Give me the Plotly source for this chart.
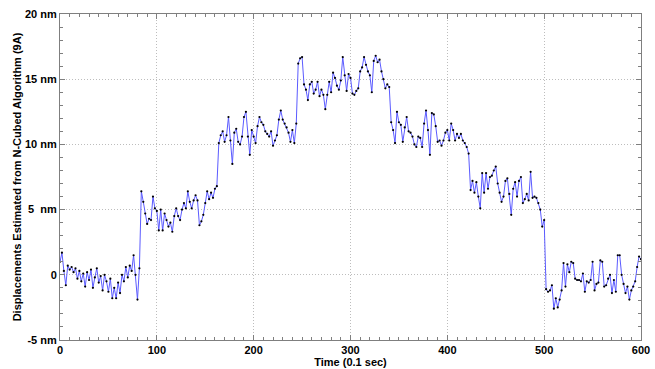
import numpy as np
import plotly.graph_objects as go

# Displacement trace (nm), sampled every 2 time units (0.1 sec), by segment
seg_starts = [0, 86, 164, 246, 342, 424, 502]
seg1 = [1.0, 1.7, 0.3, -0.8, 0.7, 0.4, 0.6, 0.2, 0.5, -0.3,
        0.3, -0.5, 0.1, -0.9, 0.2, -0.4, 0.4, -1.0, -0.2, 0.5,
        -0.6, -0.1, -1.2, 0.0, -0.5, -1.3, -0.3, -1.8, -1.0, -1.8,
        -0.6, -1.4, 0.0, -0.5, 0.6, -0.2, 0.7, 0.3, 1.5, 0.0,
        -1.9, 0.5, 6.4]
seg2 = [5.6, 4.7, 3.9, 4.3, 4.2, 6.0, 5.1, 4.9, 3.4, 5.0,
        3.4, 4.7, 4.2, 3.7, 4.0, 3.3, 4.5, 5.1, 4.5, 4.2,
        5.0, 5.5, 5.1, 6.4, 5.6, 5.1, 5.7, 6.1, 5.7, 3.8,
        4.1, 4.6, 5.5, 6.4, 5.8, 6.3, 5.9, 6.6, 6.8]
seg3 = [10.1, 10.7, 11.0, 10.2, 10.7, 12.1, 10.3, 8.5, 10.9, 11.2,
        10.2, 10.0, 10.6, 12.1, 12.5, 10.6, 9.2, 11.1, 10.6, 10.1,
        11.4, 12.1, 11.7, 11.5, 11.0, 10.8, 10.6, 11.0, 9.9, 10.3,
        10.7, 11.9, 12.6, 11.9, 11.6, 11.3, 10.9, 10.2, 11.1, 10.1,
        11.6]
seg4 = [16.2, 16.6, 16.7, 14.6, 14.2, 13.4, 14.6, 14.8, 13.9, 14.2,
        14.8, 13.7, 14.2, 13.8, 12.7, 13.8, 14.8, 14.0, 15.5, 15.1,
        14.5, 14.2, 14.9, 16.7, 15.3, 14.1, 15.4, 15.1, 13.9, 13.8,
        14.1, 14.3, 15.6, 15.9, 16.7, 16.1, 15.6, 15.3, 14.0, 16.4,
        16.8, 16.3, 16.5, 15.6, 15.0, 14.3, 14.6, 14.4]
seg5 = [11.7, 11.1, 10.1, 12.5, 11.7, 11.5, 10.2, 11.3, 12.1, 11.0,
        10.9, 10.6, 10.0, 9.8, 10.6, 10.5, 9.8, 11.6, 12.6, 11.1,
        9.2, 12.4, 12.3, 11.4, 10.2, 10.3, 9.9, 10.3, 10.9, 11.1,
        10.3, 11.6, 11.1, 10.3, 10.8, 10.5, 10.8, 10.3, 10.1, 9.8,
        9.3]
seg6 = [6.5, 7.2, 6.3, 7.1, 6.0, 5.1, 7.8, 6.3, 7.8, 6.6,
        7.5, 7.6, 8.0, 8.3, 7.0, 6.3, 5.6, 6.0, 7.2, 7.4,
        6.2, 4.6, 6.6, 7.1, 6.0, 7.2, 7.5, 5.5, 5.8, 6.2,
        5.7, 7.9, 5.9, 6.0, 5.9, 5.5, 5.0, 3.7, 4.2]
seg7 = [-1.1, -1.3, -1.2, -0.8, -2.6, -1.8, -2.5, -1.9, -1.2, 0.9,
        -0.9, 0.8, 0.2, 1.0, 0.9, -0.3, -0.4, -0.4, -0.5, 0.1,
        -1.3, -0.5, -0.6, -0.4, 1.0, -1.2, -0.7, -0.6, 1.1, 1.0,
        -0.9, -0.8, -0.3, 0.0, -1.4, -0.4, -1.3, 1.5, 1.5, 0.0,
        -0.7, -1.4, -0.9, -1.9, -1.2, -0.9, -0.5, 0.6, 1.4, 1.2]

segments = [seg1, seg2, seg3, seg4, seg5, seg6, seg7]
times, disp = [], []
for start, seg in zip(seg_starts, segments):
    for i, v in enumerate(seg):
        times.append(start + 2 * i)
        disp.append(v)

x_ticks = [0, 100, 200, 300, 400, 500, 600]
y_ticks = [-5, 0, 5, 10, 15, 20]
y_tick_text = ["-5 nm", "0", "5  nm", "10 nm", "15 nm", "20 nm"]

FONT = "Liberation Sans, Arial, sans-serif"

fig = go.Figure()
fig.add_trace(go.Scatter(
    x=times, y=disp, mode="lines+markers",
    line=dict(color="#5b5bff", width=1),
    marker=dict(color="black", size=2.2),
    showlegend=False,
))

axis_common = dict(
    showline=True, linecolor="#7f7f7f", linewidth=1, mirror="allticks",
    ticks="inside", ticklen=5, tickcolor="#7f7f7f",
    showgrid=True, gridcolor="#bdbdbd", griddash="1px,2px", gridwidth=1,
    zeroline=False,
    tickfont=dict(family=FONT, size=11, color="black", weight="bold"),
)

fig.update_xaxes(
    range=[0, 600], tickvals=x_ticks,
    minor=dict(dtick=10, ticks="inside", ticklen=3, tickcolor="#7f7f7f", showgrid=False),
    title=dict(text="Time (0.1 sec)", standoff=2,
               font=dict(family=FONT, size=11, color="black", weight="bold")),
    ticklabelstandoff=0,
    **axis_common,
)
fig.update_yaxes(
    range=[-5, 20], tickvals=y_ticks, ticktext=y_tick_text,
    minor=dict(dtick=1, ticks="inside", ticklen=3, tickcolor="#7f7f7f", showgrid=False),
    title=dict(text="Displacements Estimated from N-Cubed Algorithm (9A)", standoff=1,
               font=dict(family=FONT, size=11, color="black", weight="bold")),
    **axis_common,
)

fig.update_layout(
    width=655, height=369,
    margin=dict(l=60, r=14, t=14, b=29, autoexpand=False),
    plot_bgcolor="white", paper_bgcolor="white",
)

fig.write_html("out.html")
